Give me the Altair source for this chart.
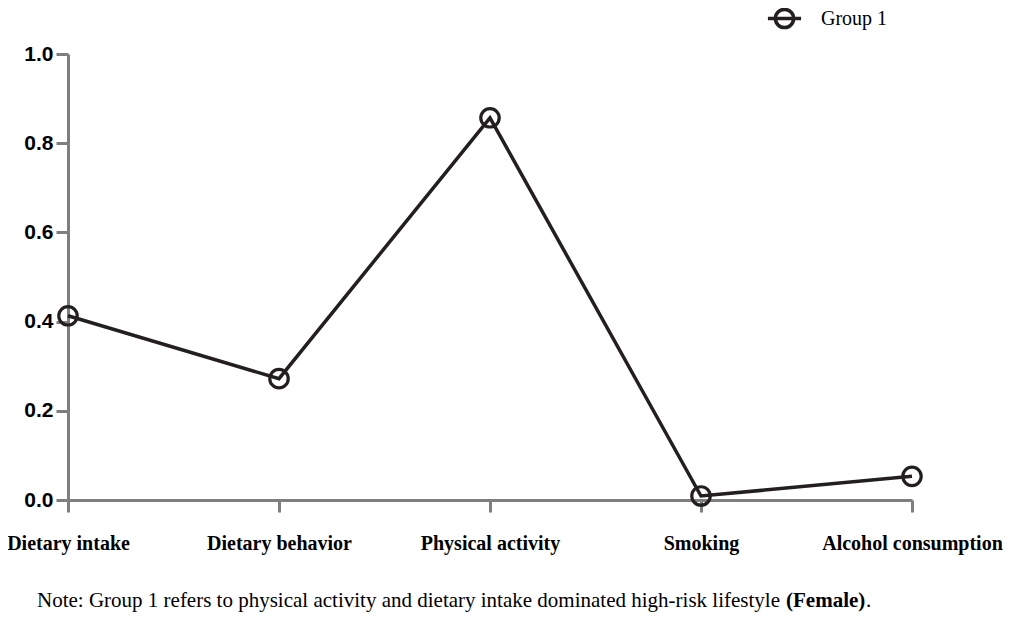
import altair as alt
import pandas as pd

categories = ["Dietary intake", "Dietary behavior", "Physical activity", "Smoking", "Alcohol consumption"]
values = [0.413, 0.272, 0.857, 0.009, 0.053]
group = ["Group 1"] * 5
y_ticks = [0.0, 0.2, 0.4, 0.6, 0.8, 1.0]
note_regular = "Note: Group 1 refers to physical activity and dietary intake dominated high-risk lifestyle "
note_bold = "(Female)"
note_end = "."

df = pd.DataFrame({"category": categories, "value": values, "group": group})

serif = "Liberation Serif"
sans = "Liberation Sans"
ink = "#231f20"
axis_gray = "#7f7f7f"

x_enc = alt.X("category:N", sort=categories,
              scale=alt.Scale(type="point", padding=0),
              axis=alt.Axis(title=None, labelAngle=0, labelFont=serif, labelFontWeight="bold",
                            labelFontSize=20, labelColor="#000", labelPadding=21, labelLimit=400,
                            domainColor=axis_gray, domainWidth=3, tickColor=axis_gray,
                            tickWidth=3, tickSize=12, grid=False, labelOverlap=False))
y_enc = alt.Y("value:Q", scale=alt.Scale(domain=[0, 1]),
              axis=alt.Axis(title=None, values=y_ticks, format=".1f", labelFont=sans,
                            labelFontWeight="bold", labelFontSize=21, labelColor="#000",
                            labelPadding=3, domainColor=axis_gray, domainWidth=3,
                            tickColor=axis_gray, tickWidth=3, tickSize=12, grid=False))
color_enc = alt.Color("group:N", scale=alt.Scale(domain=["Group 1"], range=[ink]),
                      legend=alt.Legend(title=None, orient="none", legendX=698, legendY=-54,
                                        symbolType="M -1 0 L 1 0 M 0.55 0 A 0.55 0.55 0 1 1 -0.55 0 A 0.55 0.55 0 1 1 0.55 0 Z",
                                        symbolSize=1100, symbolStrokeWidth=3.5,
                                        symbolFillColor="transparent", symbolStrokeColor=ink,
                                        labelFont=serif, labelFontSize=20, labelColor="#000",
                                        labelOffset=18, padding=0))

base = alt.Chart(df)
points = base.mark_point(shape="circle", filled=False, size=340, strokeWidth=3.2, color=ink, opacity=1).encode(
    x=x_enc, y=y_enc, color=color_enc)
line = base.mark_line(strokeWidth=3.5, color=ink).encode(x=x_enc, y=y_enc, color=alt.Color("group:N", legend=None))

note_df = pd.DataFrame({"a": [note_regular], "b": [note_bold], "c": [note_end]})
note1 = alt.Chart(note_df).mark_text(align="left", baseline="middle", font=serif, fontSize=21, color="#000").encode(
    text="a:N", x=alt.value(-31), y=alt.value(547))
note2 = alt.Chart(note_df).mark_text(align="left", baseline="middle", font=serif, fontSize=21, fontWeight="bold", color="#000").encode(
    text="b:N", x=alt.value(718), y=alt.value(547))
note3 = alt.Chart(note_df).mark_text(align="left", baseline="middle", font=serif, fontSize=21, color="#000").encode(
    text="c:N", x=alt.value(798), y=alt.value(547))

chart = alt.layer(points, line, note1, note2, note3).properties(
    width=844, height=446,
    autosize=alt.AutoSizeParams(type="none"),
    padding={"left": 60, "top": 46, "right": 93, "bottom": 116},
).configure_view(stroke=None)

chart.save("out.html", embed_options={"renderer": "svg", "actions": False})
